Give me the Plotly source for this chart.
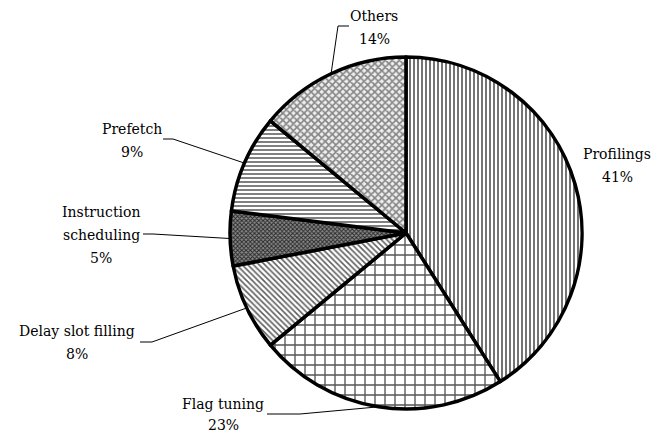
import math
import plotly.graph_objects as go

labels = ["Profilings", "Flag tuning", "Delay slot filling", "Instruction scheduling", "Prefetch", "Others"]
values = [41, 23, 8, 5, 9, 14]
label_lines = [["Profilings"], ["Flag tuning"], ["Delay slot filling"],
               ["Instruction", "scheduling"], ["Prefetch"], ["Others"]]

W, H = 662, 435
cx, cy, R = 406, 233, 176

pattern_shapes = ["|", "+", "\\", "x", "-", "x"]
pattern_sizes = [4, 10, 4, 3, 4, 5]
pattern_solid = [0.4, 0.25, 0.4, 0.55, 0.4, 0.55]
pattern_fg = ["#505050", "#555555", "#606060", "#2a2a2a", "#606060", "#858585"]
pattern_bg = ["white", "white", "white", "#8c8c8c", "white", "#eeeeee"]

# layout: x centre of label block and y of its first line (pixels), line gap
label_x = [617, 223, 77, 101, 132, 374]
label_y0 = [154, 404, 331, 212, 129, 16]
LINE_GAP = [23, 21, 23, 23, 23, 23]
stubs = [None, [(267, 414), (300, 414)], [(140, 342), (152, 342)],
         [(143, 234), (153, 234)], [(163, 139), (173, 139)], [(349, 26), (338, 26)]]

FONT = "DejaVu Serif"

fig = go.Figure(go.Pie(
    labels=labels, values=values, sort=False, direction="clockwise", rotation=0,
    textinfo="none", hoverinfo="label+percent",
    marker=dict(
        colors=["white"] * len(values),
        line=dict(color="black", width=3.5),
        pattern=dict(shape=pattern_shapes, size=pattern_sizes, solidity=pattern_solid,
                     fgcolor=pattern_fg, bgcolor=pattern_bg, fillmode="replace"),
    ),
    domain=dict(x=[(cx - R) / W, (cx + R) / W], y=[(H - cy - R) / H, (H - cy + R) / H]),
    showlegend=False,
))

total = sum(values)
cum = 0
annotations = []
shapes = []
for i, v in enumerate(values):
    mid = (cum + v / 2) / total
    cum += v
    th = 2 * math.pi * mid
    ex = cx + R * math.sin(th)
    ey = cy - R * math.cos(th)
    pct = f"{round(v / total * 100)}%"
    lines = label_lines[i] + [pct]
    for k, t in enumerate(lines):
        ly = label_y0[i] + k * LINE_GAP[i]
        annotations.append(dict(
            x=label_x[i] / W, y=1 - ly / H, xref="paper", yref="paper",
            text=t, showarrow=False,
            xanchor="center", yanchor="middle", align="center",
            font=dict(family=FONT, size=14, color="black"),
        ))
    if stubs[i]:
        pts = stubs[i] + [(ex, ey)]
        path = "M " + " L ".join(f"{px / W},{1 - py / H}" for px, py in pts)
        shapes.append(dict(type="path", path=path, xref="paper", yref="paper",
                           line=dict(color="black", width=1)))

fig.update_layout(
    width=W, height=H, margin=dict(l=0, r=0, t=0, b=0),
    paper_bgcolor="white", plot_bgcolor="white",
    font=dict(family=FONT),
    annotations=annotations, shapes=shapes,
)
fig.write_html("out.html")
